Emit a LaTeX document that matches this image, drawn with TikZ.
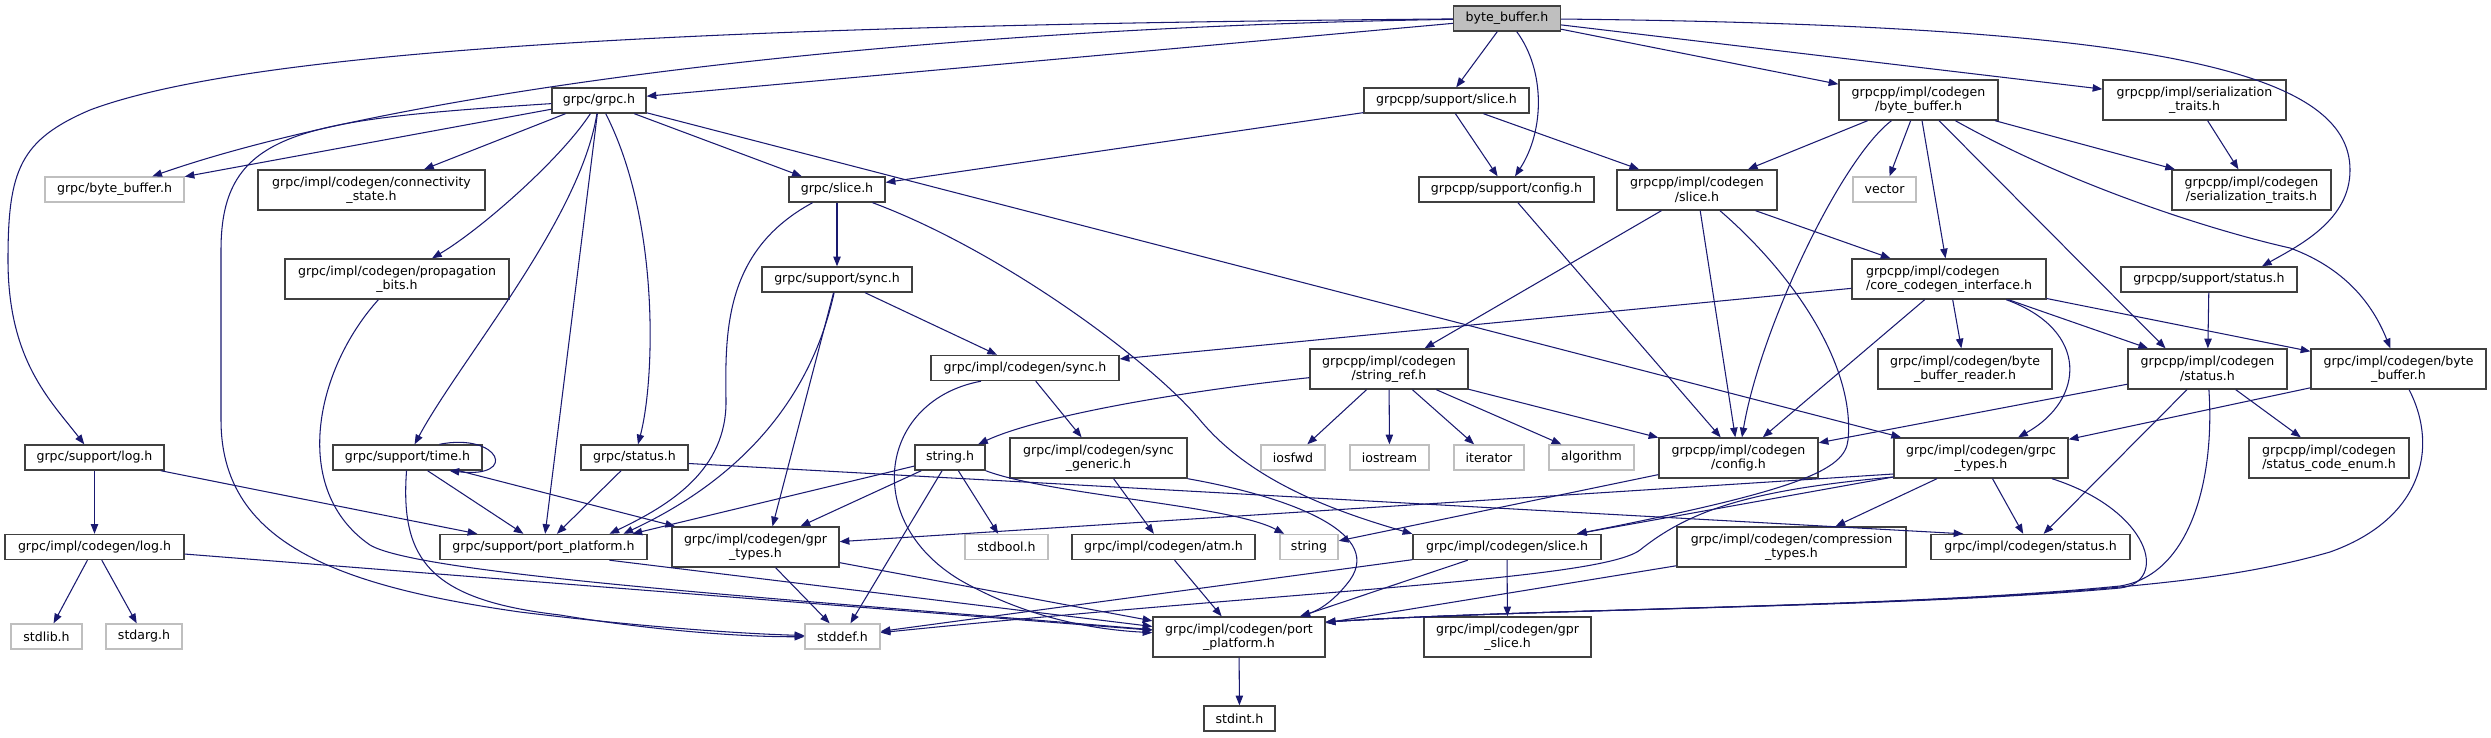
\documentclass[tikz,border=0pt]{standalone}
\usepackage{fontspec}
\setmainfont{DejaVu Sans}
\usetikzlibrary{arrows.meta}
\definecolor{edgeblue}{HTML}{191970}
\definecolor{boxline}{HTML}{404040}
\definecolor{sysline}{HTML}{BFBFBF}
\newcommand{\depfont}{\fontsize{7.15}{8.3}\selectfont}
\begin{document}
\begin{tikzpicture}[>={Triangle[length=5.5pt,width=4.2pt]},x=0.02cm,y=-0.02cm,
	box/.style={draw=boxline,line width=0.8pt,fill=white,inner sep=0pt,minimum height=0.5cm,font=\depfont},
	tall/.style={box,minimum height=0.8cm,align=center},
	sys/.style={box,draw=sysline},
	dep/.style={->,draw=edgeblue,line width=0.6pt}]
	\useasboundingbox (0,0) rectangle (2491,737);
	% rank 0 to 2
	\node[box,fill=sysline,minimum width=2.14cm] (root) at (1507,18.5) {byte\_buffer.h};
	\node[box,minimum width=1.88cm] (grpch) at (599,100.5) {grpc/grpc.h};
	\node[box,minimum width=3.3cm] (ppslice) at (1446.5,100.5) {grpcpp/support/slice.h};
	\node[tall,minimum width=3.18cm] (ppbb) at (1918.5,100) {grpcpp/impl/codegen\\/byte\_buffer.h};
	\node[tall,minimum width=3.66cm] (ser) at (2194.5,100) {grpcpp/impl/serialization\\\_traits.h};
	\node[sys,minimum width=2.78cm] (gbb) at (114.5,189.5) {grpc/byte\_buffer.h};
	\node[tall,minimum width=4.54cm] (conn) at (371.5,190) {grpc/impl/codegen/connectivity\\\_state.h};
	\node[box,minimum width=1.92cm] (gslice) at (837,189.5) {grpc/slice.h};
	\node[box,minimum width=3.5cm] (ppconfig) at (1506.5,189.5) {grpcpp/support/config.h};
	\node[tall,minimum width=3.2cm] (ccslice) at (1697,190) {grpcpp/impl/codegen\\/slice.h};
	\node[sys,minimum width=1.26cm] (vector) at (1884.5,189.5) {vector};
	\node[tall,minimum width=3.18cm] (cser) at (2251.5,190) {grpcpp/impl/codegen\\/serialization\_traits.h};
	% rank 3 and 4
	\node[tall,minimum width=4.48cm] (prop) at (397,279) {grpc/impl/codegen/propagation\\\_bits.h};
	\node[box,minimum width=3.0cm] (gsync) at (837,279.5) {grpc/support/sync.h};
	\node[tall,minimum width=3.88cm,align=left] (cci) at (1949,279) {grpcpp/impl/codegen\\/core\_codegen\_interface.h};
	\node[box,minimum width=3.52cm] (ppstatus) at (2209,279.5) {grpcpp/support/status.h};
	\node[box,minimum width=3.76cm] (csync) at (1025,368) {grpc/impl/codegen/sync.h};
	\node[tall,minimum width=3.16cm] (strref) at (1389,369) {grpcpp/impl/codegen\\/string\_ref.h};
	\node[tall,minimum width=3.48cm] (bbr) at (1965,369) {grpc/impl/codegen/byte\\\_buffer\_reader.h};
	\node[tall,minimum width=3.18cm] (ccstatus) at (2207.5,369) {grpcpp/impl/codegen\\/status.h};
	\node[tall,minimum width=3.5cm] (cbb) at (2398.5,369) {grpc/impl/codegen/byte\\\_buffer.h};
	% rank 5
	\node[box,minimum width=2.78cm] (glog) at (94.5,457.5) {grpc/support/log.h};
	\node[box,minimum width=2.98cm] (gtime) at (407.5,457.5) {grpc/support/time.h};
	\node[box,minimum width=2.14cm] (gstatus) at (634.5,457.5) {grpc/status.h};
	\node[box,minimum width=1.4cm] (strh) at (950,457.5) {string.h};
	\node[tall,minimum width=3.54cm] (sgen) at (1098.5,458) {grpc/impl/codegen/sync\\\_generic.h};
	\node[sys,minimum width=1.28cm] (iosfwd) at (1293,457.5) {iosfwd};
	\node[sys,minimum width=1.58cm] (iostream) at (1389.5,457.5) {iostream};
	\node[sys,minimum width=1.4cm] (iterator) at (1489,457.5) {iterator};
	\node[sys,minimum width=1.7cm] (algorithm) at (1591.5,457.5) {algorithm};
	\node[tall,minimum width=3.18cm] (ccconfig) at (1738.5,458) {grpcpp/impl/codegen\\/config.h};
	\node[tall,minimum width=3.48cm] (gtypes) at (1981,458) {grpc/impl/codegen/grpc\\\_types.h};
	\node[tall,minimum width=3.2cm] (sce) at (2329,458) {grpcpp/impl/codegen\\/status\_code\_enum.h};
	% rank 6
	\node[box,minimum width=3.58cm] (clog) at (94.5,547) {grpc/impl/codegen/log.h};
	\node[box,minimum width=4.14cm] (gpp) at (543.5,547) {grpc/support/port\_platform.h};
	\node[tall,minimum width=3.34cm] (gprt) at (755.5,547) {grpc/impl/codegen/gpr\\\_types.h};
	\node[sys,minimum width=1.66cm] (stdbool) at (1006.5,547) {stdbool.h};
	\node[box,minimum width=3.66cm] (atm) at (1163.5,547) {grpc/impl/codegen/atm.h};
	\node[sys,minimum width=1.16cm] (string) at (1309,547) {string};
	\node[box,minimum width=3.76cm] (cslice) at (1507,547) {grpc/impl/codegen/slice.h};
	\node[tall,minimum width=4.58cm] (comp) at (1791.5,547) {grpc/impl/codegen/compression\\\_types.h};
	\node[box,minimum width=3.98cm] (cstatus) at (2030.5,547) {grpc/impl/codegen/status.h};
	% rank 7 and 8
	\node[sys,minimum width=1.42cm] (stdlib) at (46.5,636.5) {stdlib.h};
	\node[sys,minimum width=1.52cm] (stdarg) at (144,636.5) {stdarg.h};
	\node[sys,minimum width=1.5cm] (stddef) at (842.5,636.5) {stddef.h};
	\node[tall,minimum width=3.44cm] (cpp) at (1239,637) {grpc/impl/codegen/port\\\_platform.h};
	\node[tall,minimum width=3.34cm] (gprs) at (1507.5,637) {grpc/impl/codegen/gpr\\\_slice.h};
	\node[box,minimum width=1.42cm] (stdint) at (1239.5,718.5) {stdint.h};
	% byte_buffer.h
	\draw[dep] (root) -- (grpch);
	\draw[dep] (root) .. controls (900,28) and (400,90) .. (gbb);
	\draw[dep] (root) .. controls (700,25) and (250,50) .. (90,110) .. controls (20,140) and (8,170) .. (8,260) .. controls (8,360) and (50,400) .. (glog);
	\draw[dep] (root) -- (ppslice);
	\draw[dep] (root) .. controls (1545,70) and (1545,130) .. (ppconfig);
	\draw[dep] (root) -- (ppbb);
	\draw[dep] (root) -- (ser);
	\draw[dep] (root) .. controls (2150,25) and (2350,70) .. (2350,170) .. controls (2350,220) and (2300,245) .. ([xshift=1.06cm]ppstatus.north);
	% grpc/grpc.h
	\draw[dep] (grpch) -- (gbb);
	\draw[dep] (grpch) .. controls (300,120) and (221,130) .. (221,250) -- (221,420) .. controls (221,540) and (330,585) .. (520,612) .. controls (650,628) and (750,634) .. (stddef);
	\draw[dep] (grpch) -- (conn);
	\draw[dep] (grpch) .. controls (560,160) and (480,230) .. (prop);
	\draw[dep] (grpch) .. controls (580,220) and (460,360) .. (gtime);
	\draw[dep] (grpch) -- (gpp);
	\draw[dep] (grpch) .. controls (660,220) and (655,380) .. (gstatus);
	\draw[dep] (grpch) -- (gslice);
	\draw[dep] (grpch) -- (gtypes);
	% grpc/support
	\draw[dep] ([xshift=.64cm]gtime.north) .. controls +(60,-12) and +(70,8) .. ([xshift=.84cm]gtime.south);
	\draw[dep] (gtime) -- (gpp);
	\draw[dep] (gtime) .. controls (400,560) and (430,600) .. (560,615) .. controls (650,630) and (740,637) .. (stddef);
	\draw[dep] (gtime) -- (gprt);
	\draw[dep] (glog) -- (gpp);
	\draw[dep] (glog) -- (clog);
	\draw[dep] (clog) -- (stdlib);
	\draw[dep] (clog) -- (stdarg);
	\draw[dep] (clog) -- (cpp);
	\draw[dep] (prop) .. controls (315,370) and (290,490) .. (370,545) .. controls (420,575) and (800,600) .. (cpp);
	\draw[dep] (gstatus) -- (gpp);
	\draw[dep] ([yshift=-.12cm]gstatus.east) -- ([xshift=.66cm]cstatus.north west);
	\draw[dep] ([xshift=1.32cm]gpp.south) -- (cpp);
	\draw[dep] (gslice) -- (gsync);
	\draw[dep] (gslice) .. controls (725,250) and (725,330) .. (726,400) .. controls (727,470) and (670,505) .. ([xshift=1.32cm]gpp.north);
	\draw[dep] (gslice) .. controls (1000,250) and (1150,360) .. (1200,420) .. controls (1250,480) and (1330,510) .. (cslice.north west);
	\draw[dep] (gsync) -- (csync);
	\draw[dep] (gsync) .. controls (815,380) and (760,470) .. ([xshift=1.6cm]gpp.north);
	\draw[dep] (gsync) -- ([xshift=.34cm]gprt.north);
	% grpc/impl/codegen
	\draw[dep] ([xshift=-.88cm]csync.south) .. controls (880,400) and (860,520) .. (960,580) .. controls (1030,620) and (1100,630) .. (cpp);
	\draw[dep] (csync) -- (sgen);
	\draw[dep] (strh) -- ([xshift=1.78cm]gpp.north);
	\draw[dep] (strh) -- (gprt);
	\draw[dep] (strh) -- (stddef);
	\draw[dep] (strh) -- (stdbool);
	\draw[dep] (strh.south east) .. controls (1050,495) and (1230,505) .. (string);
	\draw[dep] (sgen) -- (atm);
	\draw[dep] (sgen.south east) .. controls (1280,495) and (1385,530) .. (1350,580) .. controls (1335,600) and (1320,610) .. ([xshift=1.22cm]cpp.north);
	\draw[dep] (atm) -- (cpp);
	\draw[dep] (cslice) -- (gprs);
	\draw[dep] (cslice) -- (cpp);
	\draw[dep] (cslice) -- (stddef);
	\draw[dep] (cpp) -- (stdint);
	\draw[dep] (gprt) -- (cpp);
	\draw[dep] (gprt) -- (stddef);
	% grpcpp
	\draw[dep] (strref) -- (iosfwd);
	\draw[dep] (strref) -- (iostream);
	\draw[dep] (strref) -- (iterator);
	\draw[dep] (strref) -- (algorithm);
	\draw[dep] (strref) -- (ccconfig);
	\draw[dep] (strref) .. controls (1150,395) and (1030,420) .. (strh);
	\draw[dep] (ppslice) -- (gslice);
	\draw[dep] (ppslice) -- (ppconfig);
	\draw[dep] (ppslice) -- (ccslice);
	\draw[dep] (ppconfig) -- (ccconfig);
	\draw[dep] (ppstatus) -- (ccstatus);
	\draw[dep] (ccslice) -- (strref);
	\draw[dep] (ccslice) -- (ccconfig);
	\draw[dep] (ccslice) -- (cci);
	\draw[dep] ([xshift=.46cm]ccslice.south) .. controls (1800,280) and (1855,370) .. (1848,440) .. controls (1845,470) and (1800,490) .. ([xshift=1.4cm]cslice.north);
	\draw[dep] (ppbb) -- (ccslice);
	\draw[dep] (ppbb) .. controls (1840,160) and (1760,330) .. (ccconfig);
	\draw[dep] (ppbb) -- (vector);
	\draw[dep] (ppbb) -- (cci);
	\draw[dep] (ppbb) -- ([xshift=-.84cm]ccstatus.north);
	\draw[dep] (ppbb) -- (cser);
	\draw[dep] (ppbb) .. controls (2070,185) and (2210,230) .. (2290,248) .. controls (2350,270) and (2375,310) .. (cbb);
	\draw[dep] (ser) -- (cser);
	\draw[dep] (cci) -- (csync);
	\draw[dep] (cci) -- (ccconfig);
	\draw[dep] (cci) -- (bbr);
	\draw[dep] (cci) .. controls (2090,330) and (2085,400) .. (gtypes);
	\draw[dep] (cci) -- (ccstatus);
	\draw[dep] (cci) -- (cbb);
	\draw[dep] (ccstatus) -- (ccconfig);
	\draw[dep] (ccstatus) -- (cstatus);
	\draw[dep] (ccstatus) -- (sce);
	\draw[dep] (ccstatus) .. controls (2215,480) and (2190,575) .. (2120,586) .. controls (1900,608) and (1550,608) .. ([yshift=.3cm]cpp.east);
	\draw[dep] (cbb) -- (gtypes);
	\draw[dep] (cbb) .. controls (2440,450) and (2420,520) .. (2330,552) .. controls (2250,575) and (2170,582) .. (2120,587) .. controls (1900,608) and (1550,608) .. ([yshift=.3cm]cpp.east);
	\draw[dep] ([xshift=1.42cm]gtypes.south) .. controls (2150,510) and (2170,582) .. (2120,588) .. controls (1900,608) and (1550,608) .. ([yshift=.3cm]cpp.east);
	\draw[dep] (gtypes) -- (comp);
	\draw[dep] (gtypes) -- (cstatus);
	\draw[dep] ([yshift=-.32cm]gtypes.west) -- (gprt);
	\draw[dep] ([yshift=-.38cm]gtypes.west) -- ([xshift=1.4cm]cslice.north);
	\draw[dep] ([yshift=-.38cm]gtypes.west) .. controls (1750,490) and (1690,510) .. (1640,550) .. controls (1600,580) and (1300,590) .. (stddef);
	\draw[dep] (comp) -- (cpp);
	\draw[dep] (ccconfig) -- (string);
\end{tikzpicture}
\end{document}
